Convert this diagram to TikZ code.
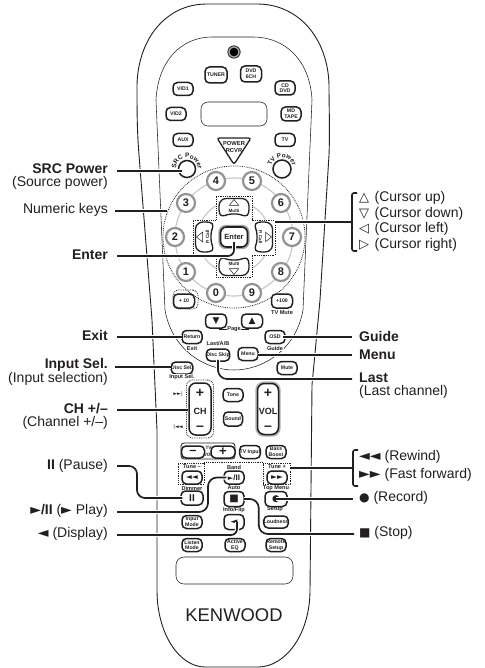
\documentclass[tikz,border=0pt]{standalone}
\usepackage{fontspec}
\setmainfont{Liberation Sans}
\newfontfamily\sym{DejaVu Sans}
\usetikzlibrary{decorations.text}
\definecolor{ink}{HTML}{231F20}
\newcommand\fs[1]{\fontsize{#1}{#1}\selectfont}
\newcommand\fss[2]{\fontsize{#1}{#2}\selectfont}
\newcommand\btn[6][]{\node[btn,minimum width=#5pt,minimum height=#6pt,#1] (#2) at (#3,#4)}
\tikzset{
  btn/.style={draw=ink,fill=white,line width=1.5pt,rounded corners=4.5pt,inner sep=0pt,align=center,text=ink,font=\bfseries\fss{5.2}{5.6}},
  tag/.style={inner sep=0pt,align=center,text=ink,font=\bfseries\fss{5.6}{6}},
  tagw/.style={tag,fill=white,inner sep=0.6pt},
  keytag/.style={tag,font=\bfseries\fss{4.6}{5}},
  num/.style={circle,draw=gray!85,fill=white,line width=2.2pt,minimum size=18pt,inner sep=0pt,text=ink,font=\bfseries\fs{11}},
  body/.style={draw=ink,line width=0.9pt},
  thin body/.style={draw=ink,line width=0.55pt},
  ringg/.style={draw=gray!45,line width=1.1pt},
  dotbox/.style={draw=ink,densely dotted,line width=0.8pt,inner sep=0pt,fill=none},
  leader/.style={draw=ink,line width=1.7pt,preaction={draw=white,line width=4pt}},
  bracket/.style={draw=ink,line width=1.6pt,rounded corners=2pt},
  lab/.style={inner sep=0pt,anchor=east,align=right,text=ink,font=\fss{14}{13.5}},
  rlab/.style={inner sep=0pt,anchor=west,align=left,text=ink,font=\fss{14}{13.5}},
  key/.style={draw=ink,fill=white,line width=1.3pt},
  tri/.style={draw=ink,fill=white,line width=0.5pt},
}
\begin{document}
\begin{tikzpicture}[x=1pt,y=-1pt]
\useasboundingbox (0,0) rectangle (484,668);
\fill[white] (0,0) rectangle (484,668);
% casing
\draw[body] (207,4) -- (257,4) .. controls (300,4) and (328,40) .. (329,85)
  .. controls (329,110) and (330,130) .. (329,155) -- (320,300) -- (312,385) -- (310,590)
  .. controls (310,635) and (285,667) .. (258,667) -- (205,667)
  .. controls (180,667) and (157,635) .. (157,590) -- (157,430) -- (152,320) -- (139,155)
  .. controls (137,130) and (137,110) .. (137,85) .. controls (138,40) and (165,4) .. (207,4) -- cycle;
\draw[thin body] (212,37) -- (253,37) .. controls (285,37) and (310,60) .. (312,100)
  -- (303,310) .. controls (296,350) and (263,370) .. (234,370)
  .. controls (205,370) and (172,350) .. (165,310) -- (156,100)
  .. controls (158,60) and (182,37) .. (212,37) -- cycle;
% LED
\fill[ink] (234,52) circle (6.6);
\fill[gray!70] (234,52) circle (5.7);
\fill[black] (234,52) circle (4.3);
% top buttons
\btn{bTuner}{216}{75}{22}{16}{TUNER};
\btn{bDvd}{251}{74}{21}{16}{DVD\\6CH};
\btn{bVid1}{183}{89}{20}{13}{VID1};
\btn{bCd}{285}{88}{20}{14}{CD\\DVD};
\btn{bVid2}{176}{114}{20}{13}{VID2};
\btn{bMd}{291}{114}{20}{14}{MD\\TAPE};
\btn{bAux}{183}{140}{20}{13}{AUX};
\btn{bTv}{285}{140}{20}{13}{TV};
\draw[thin body,rounded corners=7pt,fill=white] (201,102) rectangle (267,126);
\draw[key,rounded corners=2.5pt] (217,138) -- (251,138) -- (234,164.5) -- cycle;
\node[tag,font=\bfseries\fss{5.8}{6.4}] (tPower) at (234,147) {POWER\\RCVR};
% source and TV power
\node[circle,draw=ink,fill=white,line width=1.5pt,minimum size=17pt,inner sep=0pt] (bSrc) at (187,169) {};
\node[circle,draw=ink,fill=white,line width=1.5pt,minimum size=18pt,inner sep=0pt] (bTvp) at (282,169) {};
\path[decorate,decoration={text along path,text align=center,text={|\bfseries\fs{6.4}\color{ink}|SRC Power}}]
  (176,170) .. controls (176,154) and (198,154) .. (198,170);
\path[decorate,decoration={text along path,text align=center,text={|\bfseries\fs{6.4}\color{ink}|TV Power}}]
  (271,170) .. controls (271,153) and (293,153) .. (293,170);
% dial
\node[circle,dotbox,minimum size=142pt] (dial) at (234,237) {};
\draw[ringg] (234,237) circle (59);
\draw[ringg] (234,237) circle (36);
\node[num] (n4) at (216,181) {4};
\node[num] (n5) at (252,181) {5};
\node[num] (n3) at (186,203) {3};
\node[num] (n6) at (281,203) {6};
\node[num] (n2) at (175,237) {2};
\node[num] (n7) at (292,237) {7};
\node[num] (n1) at (186,272) {1};
\node[num] (n8) at (281,272) {8};
\node[num] (n0) at (216,293) {0};
\node[num] (n9) at (252,293) {9};
% cursor cross
\fill[white] (216,196) -- (252,196) -- (252,220) -- (275,220) -- (275,255) -- (252,255) -- (252,277) -- (216,277) -- (216,255) -- (193,255) -- (193,220) -- (216,220) -- cycle;
\draw[dotbox] (216,196) -- (252,196) -- (252,220) -- (275,220) -- (275,255) -- (252,255) -- (252,277) -- (216,277) -- (216,255) -- (193,255) -- (193,220) -- (216,220) -- cycle;
\foreach \r in {0,90,180,270}{
  \begin{scope}[shift={(234,237)},rotate=\r]
  \draw[key] (-14.5,-24) .. controls (-16.5,-34) and (-13,-38.5) .. (-8,-38.5) -- (8,-38.5)
    .. controls (13,-38.5) and (16.5,-34) .. (14.5,-24)
    .. controls (13.5,-20) and (10,-21) .. (6,-22.5) .. controls (2,-23.2) and (-2,-23.2) .. (-6,-22.5)
    .. controls (-10,-21) and (-13.5,-20) .. (-14.5,-24) -- cycle;
  \draw[tri] (0,-37.5) -- (4.8,-31.5) -- (-4.8,-31.5) -- cycle;
  \end{scope}}
\node[keytag] (tM1) at (234,210.5) {Multi};
\node[keytag] (tM2) at (234,263.5) {Multi};
\node[keytag,rotate=90] (tP1) at (207.5,237) {P. Call};
\node[keytag,rotate=-90] (tP2) at (260.5,237) {P. Call};
\node[btn,minimum width=28pt,minimum height=21pt,draw=gray!70,line width=3.4pt,rounded corners=6pt] (bEnterH) at (234,237) {};
\node[btn,minimum width=27pt,minimum height=20pt,line width=1.6pt,rounded corners=6pt,font=\bfseries\fs{7.5}] (bEnter) at (234,237) {Enter};
% +10, +100
\node[dotbox,rounded corners=5pt,minimum width=25pt,minimum height=19pt] (f10) at (185.5,299.5) {};
\btn{b10}{184}{301}{21}{14}{+ 10};
\btn{b100}{282}{301}{21}{14}{+100};
\node[tagw] (tMute) at (282,313) {TV Mute};
% page
\draw[thin body] (219,329) -- (249,329);
\btn{bPd}{216}{321}{21}{14}{\sym\fs{9}▼};
\btn{bPu}{252}{321}{21}{14}{\sym\fs{9}▲};
\node[tagw] (tPage) at (234,329) {Page};
% mid buttons
\btn{bRet}{192}{337}{20}{13}{Return};
\node[tagw] (tExit) at (192,348) {Exit};
\btn{bOsd}{275}{337}{20}{13}{OSD};
\node[tagw] (tGuide) at (275,348) {Guide};
\node[tagw] (tLast) at (218,344) {Last/A/B};
\btn{bSkip}{218}{355}{20}{12}{Disc Skip};
\btn{bMenu}{248}{354}{20}{13}{Menu};
\btn{bMute}{287}{368}{20}{13}{Mute};
\btn{bSel}{182}{368}{21}{12}{Disc Sel.};
\node[tagw] (tInp) at (182,377.5) {Input Sel.};
% CH VOL
\node[dotbox,rounded corners=6pt,minimum width=27pt,minimum height=58pt] (fCh) at (200,409) {};
\btn[rounded corners=7pt]{bCh}{200}{409}{22}{52}{};
\node[tag,font=\bfseries\fs{14}] (tCh1) at (200,393) {+};
\node[tag,font=\bfseries\fs{9}] (tCh2) at (200,411) {CH};
\node[tag,font=\bfseries\fs{14}] (tCh3) at (200,428) {–};
\node[btn,draw=gray!60,line width=3.4pt,rounded corners=7pt,minimum width=22pt,minimum height=52pt] (bVolH) at (268,409) {};
\btn[rounded corners=7pt]{bVol}{268}{409}{21}{51}{};
\node[tag,font=\bfseries\fs{14}] (tV1) at (268,393) {+};
\node[tag,font=\bfseries\fs{9}] (tV2) at (268,411) {VOL};
\node[tag,font=\bfseries\fs{14}] (tV3) at (268,428) {–};
\node[tag,font=\sym\fs{5}] (tNext) at (178,394) {►►|};
\node[tag,font=\sym\fs{5}] (tPrev) at (178,427) {|◄◄};
\btn{bTone}{233}{395}{20}{13}{Tone};
\btn{bSound}{233}{419}{19}{14}{Sound};
% TV vol
\node[draw=ink,line width=0.8pt,rounded corners=3pt,minimum width=54pt,minimum height=16pt,inner sep=0pt] (fTv) at (208,451) {};
\btn[font=\bfseries\fs{13}]{bTm}{193}{452}{23}{12}{–};
\btn[font=\bfseries\fs{13}]{bTp}{223}{452}{24}{12}{+};
\node[tag,font=\bfseries\fss{4.6}{6.5}] (tTv) at (208.5,451.5) {TV\\VOL};
\btn{bTvi}{250}{452}{20}{13}{TV Input};
\btn{bBass}{276}{452}{20}{13}{Bass\\Boost};
% tune
\node[dotbox,minimum width=26pt,minimum height=21pt] (fTm) at (191,473.5) {};
\node[dotbox,minimum width=27pt,minimum height=21pt] (fTn) at (276.5,473.5) {};
\draw[dotbox] (fTm.north east) -- (fTn.north west);
\node[tagw] (tTm) at (192,467) {Tune –};
\node[tagw] (tBand) at (234,467) {Band};
\node[tagw] (tTp) at (277,467) {Tune +};
\btn[font=\sym\fs{7.5}]{bRew}{192}{477.5}{20}{13}{◄◄};
\btn[font=\bfseries\fs{8}]{bPlay}{234}{477.5}{20}{13}{{\sym\fs{7}►}/II};
\btn[font=\sym\fs{7.5}]{bFf}{277}{477.5}{20}{13}{►►};
\node[tag] (tDim) at (192,488) {Dimmer};
\node[tag] (tAuto) at (234,488) {Auto};
\node[tag] (tTop) at (276,488) {Top Menu};
\btn[font=\bfseries\fs{10}]{bPause}{192}{498}{22}{14}{II};
\btn[font=\sym\fs{10}]{bStop}{234}{499}{20}{15}{■};
\btn[font=\sym\fs{9}]{bRec}{276}{499}{22}{15}{●};
\node[tag] (tSetup) at (275,509) {Setup};
\node[tag] (tInfo) at (234,510) {Info/Flip};
\btn{bInM}{192}{522}{20}{13}{Input\\Mode};
\btn[font=\sym\fs{9}]{bBack}{234}{522}{20}{15}{◄};
\btn{bLoud}{276}{522}{20}{12}{Loudness};
\btn{bLis}{192}{545}{20}{13}{Listen\\Mode};
\btn{bAct}{235}{545}{20}{13}{Active\\EQ};
\btn{bRem}{276}{545}{20}{13}{Remote\\Setup};
\draw[thin body,rounded corners=8pt] (176,557) rectangle (293,584);
\node[inner sep=0pt,text=ink,font=\fs{18.4}] (tKen) at (234,615) {KENWOOD};
% left labels
\node[lab] (lSrc) at (108,176.7) {\textbf{SRC Power}\\(Source power)};
\node[lab] (lNum) at (108,209.5) {Numeric keys};
\node[lab] (lEnt) at (108,254.5) {\textbf{Enter}};
\node[lab] (lExit) at (108,335) {\textbf{Exit}};
\node[lab] (lInp) at (108,372) {\textbf{Input Sel.}\\(Input selection)};
\node[lab] (lCh) at (108,416.5) {\textbf{CH +/–}\\(Channel +/–)};
\node[lab] (lPause) at (108,466) {\textbf{II} (Pause)};
\node[lab] (lPlay) at (108,511) {{\sym ►}\textbf{/II} ({\sym ►} Play)};
\node[lab] (lDisp) at (108,534) {{\sym ◄} (Display)};
% right labels
\node[rlab] (rC1) at (359,198) {{\sym\fs{13}△}\hspace{1.5pt} (Cursor up)};
\node[rlab] (rC2) at (359,213.5) {{\sym\fs{13}▽}\hspace{1.5pt} (Cursor down)};
\node[rlab] (rC3) at (359,228.5) {{\sym\fs{13}◁}\hspace{1.5pt} (Cursor left)};
\node[rlab] (rC4) at (359,244.5) {{\sym\fs{13}▷}\hspace{1.5pt} (Cursor right)};
\node[rlab] (rGuide) at (359,336) {\textbf{Guide}};
\node[rlab] (rMenu) at (359,355) {\textbf{Menu}};
\node[rlab] (rLast) at (359,385.5) {\textbf{Last}\\(Last channel)};
\node[rlab] (rRew) at (359,457) {{\sym ◄◄} (Rewind)};
\node[rlab] (rFf) at (359,474.5) {{\sym ►►} (Fast forward)};
\node[rlab] (rRec) at (359,497.5) {{\sym\fs{12}●} (Record)};
\node[rlab] (rStop) at (359,533) {{\sym\fs{12}■} (Stop)};
% leader ends
\coordinate (sSrc) at (117,171);
\coordinate (sNum) at (115,211);
\coordinate (eNum) at (167,211);
\coordinate (sEnt) at (117,256);
\coordinate (sExit) at (117,337);
\coordinate (sInp) at (115,367);
\coordinate (sCh) at (117,410);
\coordinate (sPause) at (117,466);
\coordinate (sPlay) at (117,512);
\coordinate (sDisp) at (117,535);
\coordinate (eCur) at (352,222);
\coordinate (sCur) at (275,222);
\coordinate (eGuide) at (352,337);
\coordinate (eMenu) at (352,355);
\coordinate (eLast) at (352,379);
\coordinate (eTune) at (353,468);
\coordinate (eRec) at (353,499);
\coordinate (eStop) at (354,534);
% leaders
\draw[leader] (sSrc) -- ([xshift=4pt]sSrc -| bSrc.west);
\draw[leader] (sNum) -- (eNum);
\draw[leader,rounded corners=6pt] (sEnt) -| ([yshift=-5pt]bEnter.center);
\draw[leader] (sExit) -- ([xshift=1pt]sExit -| bRet.west);
\draw[leader] (sInp) -- ([xshift=1pt]sInp -| bSel.west);
\draw[leader] (sCh) -- (sCh -| bCh.west);
\draw[leader,rounded corners=8pt] (sPause) -- ++(20,0) |- ([xshift=2pt]bPause.west);
\draw[leader,rounded corners=9pt] (sPlay) -- ++(91,0) |- ([xshift=3pt]bPlay.west);
\draw[leader,rounded corners=6pt] (sDisp) -| ([xshift=3pt]bBack.center);
\draw[leader] (sCur) -- (eCur);
\draw[leader] ([xshift=-3pt]eGuide -| bOsd.east) -- (eGuide);
\draw[leader] ([xshift=-1pt]eMenu -| bMenu.east) -- (eMenu);
\draw[leader,rounded corners=9pt] ([yshift=2pt]bSkip.south) |- (eLast);
\draw[leader] (eTune -| fTn.east) -- (eTune);
\draw[leader] (bRec.center) -- (eRec);
\draw[leader,rounded corners=9pt] ([xshift=-1pt]bStop.east) -- ++(15,0) |- (eStop);
\draw[bracket] (357,193) -- (352,193) -- (352,251) -- (357,251);
\draw[bracket] (358,450) -- (353,450) -- (353,486) -- (358,486);
\end{tikzpicture}
\end{document}
